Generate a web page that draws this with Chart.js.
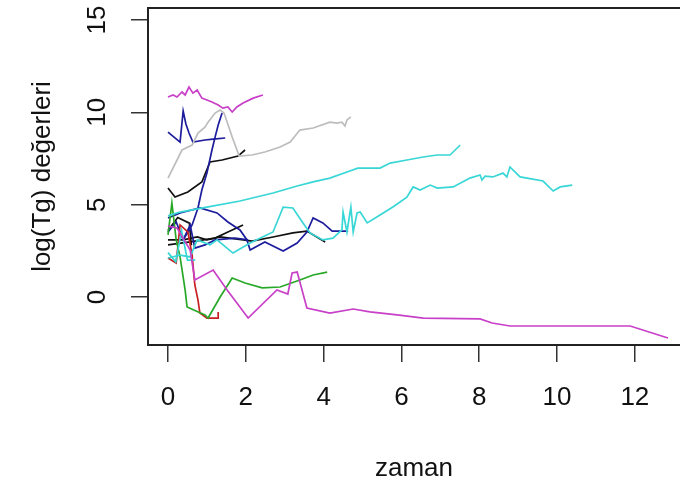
<!DOCTYPE html>
<html lang="tr">
<head>
<meta charset="UTF-8" />
<script src="https://cdn.jsdelivr.net/npm/chart.js@4.4.1/dist/chart.umd.min.js"></script>
<title>log(Tg) değerleri</title>
<style>
  html, body { margin: 0; padding: 0; background: #fff; }
</style>
</head>
<body>
<canvas id="plot" width="680" height="489"></canvas>
<script>
  // tick labels
  const xTicks = [0, 2, 4, 6, 8, 10, 12];
  const yTicks = [0, 5, 10, 15];

  // one pair of arrays per patient: zaman (x) and log(Tg) (y)
  const magentaTopX = [0, 0.13, 0.23, 0.36, 0.44, 0.54, 0.64, 0.75, 0.87, 1.0, 1.13, 1.29, 1.41, 1.54, 1.65, 1.77, 1.93, 2.19, 2.44];
  const magentaTopY = [10.83, 10.94, 10.83, 11.1, 10.94, 11.37, 11.04, 11.21, 10.77, 10.67, 10.56, 10.4, 10.23, 10.29, 10.02, 10.29, 10.5, 10.77, 10.94];

  const grayX = [0, 0.36, 0.62, 0.77, 0.95, 1.03, 1.21, 1.34, 1.44, 1.65, 1.83, 2.16, 2.49, 2.88, 3.14, 3.39, 3.73, 4.16, 4.34, 4.47, 4.55, 4.6, 4.7];
  const grayY = [6.44, 7.96, 8.23, 8.88, 9.2, 9.47, 9.96, 10.12, 9.96, 8.66, 7.63, 7.69, 7.85, 8.12, 8.39, 9.04, 9.15, 9.47, 9.42, 9.47, 9.26, 9.58, 9.75];

  const blueSpikeX = [0, 0.31, 0.39, 0.46, 0.54, 0.64, 0.95, 1.16, 1.47];
  const blueSpikeY = [8.93, 8.39, 10.07, 9.37, 8.88, 8.39, 8.5, 8.55, 8.61];

  const blueSteepX = [0.39, 0.62, 0.77, 0.87, 1.0, 1.13, 1.21, 1.29, 1.39];
  const blueSteepY = [3.09, 3.9, 4.82, 5.79, 6.71, 7.96, 8.66, 9.31, 9.96];

  const blueLongX = [0, 0.31, 0.82, 1.26, 1.54, 1.85, 2.03, 2.11, 2.49, 2.96, 3.32, 3.57, 3.73, 3.98, 4.22, 4.63];
  const blueLongY = [4.28, 4.55, 4.82, 4.55, 4.06, 3.63, 3.09, 2.54, 2.98, 2.49, 2.92, 3.52, 4.28, 4.01, 3.57, 3.57];

  const blueShortX = [0, 0.21, 0.39, 0.57, 0.69, 0.95, 1.21, 1.72, 2.06];
  const blueShortY = [3.52, 4.06, 3.09, 3.9, 2.65, 2.82, 3.09, 3.19, 3.09];

  const blackTopX = [0, 0.18, 0.51, 0.87, 1.08, 1.39, 1.8, 1.98];
  const blackTopY = [5.9, 5.41, 5.69, 6.23, 7.31, 7.42, 7.63, 7.96];

  const blackFlatX = [0, 0.39, 0.75, 1.0, 1.34, 1.93, 2.16, 2.7, 3.21, 3.57, 4.04];
  const blackFlatY = [3.09, 3.09, 3.25, 3.09, 3.25, 3.09, 3.03, 3.25, 3.47, 3.57, 2.98];

  const blackRiseX = [0, 0.57, 1.21, 1.54, 1.93];
  const blackRiseY = [2.82, 2.98, 3.19, 3.52, 3.9];

  const blackBoxX = [0, 0.25, 0.55, 0.6];
  const blackBoxY = [3.6, 4.3, 4.0, 2.8];

  const cyanUpperX = [0, 0.31, 1.0, 1.85, 2.7, 3.32, 3.73, 4.16, 4.6, 4.88, 5.45, 5.71, 6.14, 6.56, 6.92, 7.25, 7.51];
  const cyanUpperY = [4.39, 4.6, 4.87, 5.2, 5.63, 6.01, 6.23, 6.44, 6.77, 6.98, 6.98, 7.25, 7.42, 7.58, 7.69, 7.69, 8.23];

  const cyanLongX = [0, 0.31, 0.57, 0.75, 1.08, 1.26, 1.67, 2.11, 2.7, 2.96, 3.21, 3.47, 3.65, 3.98, 4.24, 4.47, 4.5, 4.6, 4.7, 4.76, 4.86, 4.94, 5.12, 5.45, 5.78, 6.14, 6.3, 6.48, 6.74, 6.92, 7.33, 7.76, 8.02, 8.07, 8.15, 8.35, 8.61, 8.71, 8.79, 9.05, 9.23, 9.64, 9.9, 10.08, 10.39];
  const cyanLongY = [2.11, 2.27, 2.17, 3.09, 2.82, 3.09, 2.38, 2.92, 3.52, 4.87, 4.82, 4.01, 3.47, 3.09, 3.19, 3.63, 4.6, 3.52, 4.87, 3.52, 4.55, 4.6, 4.01, 4.44, 4.87, 5.41, 5.96, 5.79, 6.06, 5.9, 5.96, 6.44, 6.61, 6.33, 6.55, 6.5, 6.71, 6.5, 7.04, 6.5, 6.44, 6.28, 5.74, 5.96, 6.06];

  const cyanShortX = [0, 0.2, 0.35, 0.5, 0.7];
  const cyanShortY = [2.4, 1.9, 3.6, 2.0, 2.0];

  const magentaLongX = [0, 0.23, 0.57, 0.69, 1.16, 1.52, 2.06, 2.8, 3.08, 3.19, 3.32, 3.57, 4.16, 4.76, 5.19, 5.89, 6.56, 8.02, 8.33, 8.79, 11.88, 12.85];
  const magentaLongY = [3.84, 3.74, 2.54, 0.92, 1.46, 0.38, -1.14, 0.38, 0.16, 1.3, 1.35, -0.6, -0.87, -0.65, -0.81, -0.97, -1.14, -1.19, -1.41, -1.57, -1.57, -2.22];

  const greenX = [0, 0.1, 0.21, 0.31, 0.44, 0.49, 0.95, 1.03, 1.34, 1.65, 1.98, 2.42, 2.88, 3.39, 3.73, 4.09];
  const greenY = [3.36, 5.09, 3.09, 2.17, 0.38, -0.54, -0.97, -1.14, 0.0, 1.03, 0.76, 0.49, 0.54, 0.92, 1.19, 1.35];

  const redX = [0, 0.21, 0.31, 0.51, 0.62, 0.69, 0.77, 0.82, 1.0, 1.29, 1.29];
  const redY = [2.11, 1.84, 3.9, 3.52, 2.27, 0.65, -0.16, -0.87, -1.14, -1.14, -0.81];

  const series = [
    [grayX, grayY, "#bdbdbd"],
    [magentaTopX, magentaTopY, "#c83fc8"],
    [magentaLongX, magentaLongY, "#c83fc8"],
    [cyanUpperX, cyanUpperY, "#38d6d6"],
    [cyanLongX, cyanLongY, "#38d6d6"],
    [cyanShortX, cyanShortY, "#38d6d6"],
    [greenX, greenY, "#28a828"],
    [redX, redY, "#c82020"],
    [blueSpikeX, blueSpikeY, "#1c1c9c"],
    [blueSteepX, blueSteepY, "#1c1c9c"],
    [blueLongX, blueLongY, "#1c1c9c"],
    [blueShortX, blueShortY, "#1c1c9c"],
    [blackTopX, blackTopY, "#111111"],
    [blackFlatX, blackFlatY, "#111111"],
    [blackRiseX, blackRiseY, "#111111"],
    [blackBoxX, blackBoxY, "#111111"]
  ];

  const font = { family: "'Liberation Sans', Arial, sans-serif", size: 26 };

  // R style frame: box round the plot region (right side runs off the picture)
  const frame = {
    id: "frame",
    afterDraw(chart) {
      const { ctx, chartArea: a } = chart;
      ctx.save();
      ctx.strokeStyle = "#222";
      ctx.lineWidth = 2;
      ctx.strokeRect(a.left, a.top, a.right - a.left + 20, a.bottom - a.top);
      ctx.restore();
    }
  };

  new Chart(document.getElementById("plot"), {
    type: "line",
    data: {
      datasets: series.map(([xs, ys, color]) => ({
        data: xs.map((x, i) => ({ x: x, y: ys[i] })),
        borderColor: color,
        borderWidth: 1.7,
        pointRadius: 0,
        tension: 0,
        fill: false
      }))
    },
    options: {
      responsive: false,
      animation: false,
      layout: { padding: { top: 8, left: 0, right: 0, bottom: 0 } },
      plugins: { legend: { display: false }, tooltip: { enabled: false } },
      scales: {
        x: {
          type: "linear",
          min: -0.514,
          max: 13.16,
          afterBuildTicks: (s) => { s.ticks = xTicks.map(v => ({ value: v })); },
          afterFit: (s) => { s.height = 144; s.paddingLeft = 0; s.paddingRight = 0; },
          border: { display: false },
          grid: { drawOnChartArea: false, drawTicks: true, tickLength: 17, color: "#333", lineWidth: 1.5 },
          ticks: { font: font, color: "#111", padding: 20, autoSkip: false, maxRotation: 0 },
          title: { display: true, text: "zaman", font: font, color: "#111", padding: { top: 0, bottom: 5 } }
        },
        y: {
          type: "linear",
          min: -2.6,
          max: 15.65,
          afterBuildTicks: (s) => { s.ticks = yTicks.map(v => ({ value: v })); },
          afterFit: (s) => { s.width = 148; s.paddingTop = 0; s.paddingBottom = 0; },
          border: { display: false },
          grid: { drawOnChartArea: false, drawTicks: true, tickLength: 17, color: "#333", lineWidth: 1.5 },
          ticks: { font: font, color: "#111", padding: 19, autoSkip: false, minRotation: 90, maxRotation: 90, crossAlign: "center" },
          title: { display: true, text: "log(Tg) değerleri", font: font, color: "#111", padding: { top: 27, bottom: 0 } }
        }
      }
    },
    plugins: [frame]
  });
</script>
</body>
</html>
